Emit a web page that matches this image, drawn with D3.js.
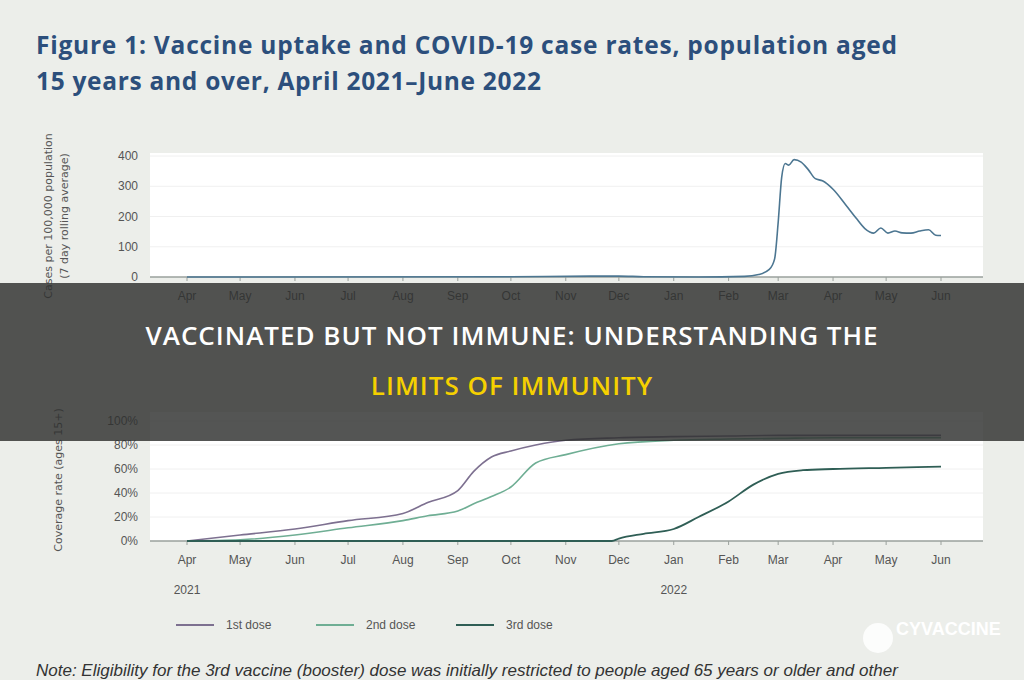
<!DOCTYPE html><html><head><meta charset="utf-8"><script src="https://cdn.jsdelivr.net/npm/d3@7"></script>
<style>body{margin:0;background:#eceeea;}svg{display:block}</style></head><body><svg id="c" width="1024" height="680"></svg>
<script>
const months=["Apr","May","Jun","Jul","Aug","Sep","Oct","Nov","Dec","Jan","Feb","Mar","Apr","May","Jun"];
const caseTicks=[0,100,200,300,400];
const covTicks=[0,20,40,60,80,100];
const caseDates=["2021-04-01","2021-10-01","2021-11-15","2021-12-01","2021-12-15","2022-01-15","2022-02-10","2022-02-18","2022-02-24","2022-02-27","2022-03-01","2022-03-03","2022-03-05","2022-03-07","2022-03-10","2022-03-14","2022-03-18","2022-03-22","2022-03-26","2022-04-01","2022-04-08","2022-04-14","2022-04-19","2022-04-24","2022-04-28","2022-05-02","2022-05-06","2022-05-10","2022-05-15","2022-05-20","2022-05-25","2022-05-29","2022-06-01"];
const caseVals=[0,1,3,3,1,0,2,8,25,60,180,330,375,370,388,380,355,325,318,290,240,195,160,145,162,145,152,146,145,152,156,138,137];
const covDates=["2021-04-01","2021-05-01","2021-06-01","2021-07-01","2021-08-01","2021-08-15","2021-09-01","2021-09-10","2021-09-20","2021-10-01","2021-10-15","2021-11-01","2021-12-01","2022-01-01","2022-02-01","2022-03-01","2022-04-01","2022-05-01","2022-06-01"];
const dose1=[0,5,10,17,23,32,42,58,70,75,80,84,86,87,87.5,88,88,88,88];
const dose2=[0,1,5,11,17,21,25,31,37,45,65,72,81,84,85,85.5,86,86,86];
const dose3Dates=["2021-04-01","2021-11-27","2021-12-01","2021-12-15","2022-01-01","2022-01-15","2022-02-01","2022-02-15","2022-03-01","2022-03-15","2022-04-01","2022-05-01","2022-06-01"];
const dose3=[0,0,2,6,10,20,33,47,56,59,60,61,62];
const svg=d3.select("#c");const P=d3.timeParse("%Y-%m-%d");
const x=d3.scaleTime().domain([P("2021-04-01"),P("2022-06-01")]).range([187,941]);
const tickDates=d3.range(15).map(i=>new Date(2021,3+i,1));
const NF="Liberation Sans Narrow, Liberation Sans";
function axis(y0){
 svg.append("line").attr("x1",150).attr("x2",983).attr("y1",y0).attr("y2",y0).attr("stroke","#9aa09c").attr("stroke-width",1.5);
 tickDates.forEach((d,i)=>{svg.append("line").attr("x1",x(d)).attr("x2",x(d)).attr("y1",y0).attr("y2",y0+4).attr("stroke","#9aa09c");
 svg.append("text").attr("x",x(d)).attr("y",y0+23).attr("text-anchor","middle").attr("font-family",NF).attr("font-size",12).attr("fill","#555").text(months[i]);});
}
svg.append("text").attr("x",36).attr("y",54).attr("font-family","Open Sans").attr("font-weight",700).attr("font-size",24.5).attr("textLength",861).attr("fill","#2c4f7c").text("Figure 1: Vaccine uptake and COVID-19 case rates, population aged");
svg.append("text").attr("x",36).attr("y",90).attr("font-family","Open Sans").attr("font-weight",700).attr("font-size",24.5).attr("textLength",505).attr("fill","#2c4f7c").text("15 years and over, April 2021–June 2022");
const y1=d3.scaleLinear().domain([0,400]).range([277,156]);
svg.append("rect").attr("x",150).attr("y",153).attr("width",833).attr("height",124).attr("fill","#fff");
caseTicks.forEach(t=>{if(t>0)svg.append("line").attr("x1",150).attr("x2",983).attr("y1",y1(t)).attr("y2",y1(t)).attr("stroke","#f0f0f0");
 svg.append("text").attr("x",138).attr("y",y1(t)+4).attr("text-anchor","end").attr("font-family",NF).attr("font-size",12).attr("fill","#555").text(t);});
axis(277);
svg.append("path").datum(caseDates.map((d,i)=>[P(d),caseVals[i]])).attr("fill","none").attr("stroke","#4c7691").attr("stroke-width",1.6).attr("d",d3.line().x(d=>x(d[0])).y(d=>y1(d[1])).curve(d3.curveMonotoneX));
[["Cases per 100,000 population",52],["(7 day rolling average)",68]].forEach(([t,xx])=>svg.append("text").attr("transform",`translate(${xx},216) rotate(-90)`).attr("text-anchor","middle").attr("font-family","DejaVu Sans").attr("font-size",11).attr("fill","#555").text(t));
const y2=d3.scaleLinear().domain([0,100]).range([541,421]);
svg.append("rect").attr("x",150).attr("y",412).attr("width",833).attr("height",129).attr("fill","#fff");
covTicks.forEach(t=>{if(t>0)svg.append("line").attr("x1",150).attr("x2",983).attr("y1",y2(t)).attr("y2",y2(t)).attr("stroke","#f0f0f0");
 svg.append("text").attr("x",138).attr("y",y2(t)+4).attr("text-anchor","end").attr("font-family",NF).attr("font-size",12).attr("fill","#555").text(t+"%");});
axis(541);
const ln=d3.line().x(d=>x(d[0])).y(d=>y2(d[1])).curve(d3.curveMonotoneX);
const cols=["#7d7090","#6fae94","#2f5e55"];
svg.append("path").datum(covDates.map((d,i)=>[P(d),dose2[i]])).attr("fill","none").attr("stroke",cols[1]).attr("stroke-width",1.6).attr("d",ln);
svg.append("path").datum(covDates.map((d,i)=>[P(d),dose1[i]])).attr("fill","none").attr("stroke",cols[0]).attr("stroke-width",1.6).attr("d",ln);
svg.append("path").datum(dose3Dates.map((d,i)=>[P(d),dose3[i]])).attr("fill","none").attr("stroke",cols[2]).attr("stroke-width",1.8).attr("d",ln);
svg.append("text").attr("transform","translate(62,480) rotate(-90)").attr("text-anchor","middle").attr("font-family","DejaVu Sans").attr("font-size",11).attr("fill","#555").text("Coverage rate (ages 15+)");
[["2021",P("2021-04-01")],["2022",P("2022-01-01")]].forEach(([t,d])=>svg.append("text").attr("x",x(d)).attr("y",594).attr("text-anchor","middle").attr("font-family",NF).attr("font-size",12).attr("fill","#555").text(t));
["1st dose","2nd dose","3rd dose"].forEach((t,i)=>{const lx=176+i*140;svg.append("line").attr("x1",lx).attr("x2",lx+38).attr("y1",625).attr("y2",625).attr("stroke",cols[i]).attr("stroke-width",2);
 svg.append("text").attr("x",lx+50).attr("y",629).attr("font-family",NF).attr("font-size",12).attr("fill","#555").text(t);});
svg.append("text").attr("x",36).attr("y",676).attr("font-family",NF).attr("font-style","italic").attr("font-size",17).attr("fill","#333").text("Note: Eligibility for the 3rd vaccine (booster) dose was initially restricted to people aged 65 years or older and other");
svg.append("circle").attr("cx",878).attr("cy",638).attr("r",15).attr("fill","#fff").attr("opacity",0.85);
svg.append("text").attr("x",896).attr("y",635).attr("font-family",NF).attr("font-weight",700).attr("font-size",18).attr("fill","#fff").text("CYVACCINE");
svg.append("rect").attr("x",0).attr("y",283).attr("width",1024).attr("height",158).attr("fill","#2e2f2e").attr("opacity",0.82);
svg.append("text").attr("x",512).attr("y",345).attr("text-anchor","middle").attr("font-family","Open Sans").attr("font-weight",600).attr("font-size",26).attr("letter-spacing",1).attr("fill","#fff").text("VACCINATED BUT NOT IMMUNE: UNDERSTANDING THE");
svg.append("text").attr("x",512).attr("y",395).attr("text-anchor","middle").attr("font-family","Open Sans").attr("font-weight",600).attr("font-size",26).attr("letter-spacing",1).attr("fill","#f5d000").text("LIMITS OF IMMUNITY");
</script></body></html>
